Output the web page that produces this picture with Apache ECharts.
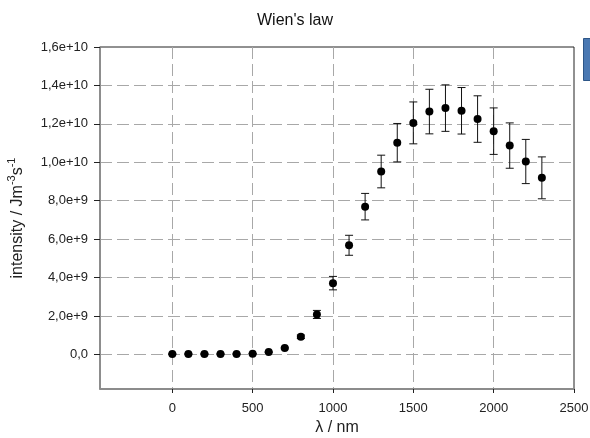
<!DOCTYPE html>
<html>
<head>
<meta charset="utf-8">
<script src="https://cdn.jsdelivr.net/npm/echarts@6/dist/echarts.min.js"></script>
<style>
  html, body { margin: 0; padding: 0; background: #fff; }
  #chart { width: 590px; height: 438px; }
</style>
</head>
<body>
<div id="chart"></div>
<script>
// Wavelength (nm) of each measurement
var wavelengths = [0, 100, 200, 300, 400, 500, 600, 700, 800, 900, 1000, 1100,
                   1200, 1300, 1400, 1500, 1600, 1700, 1800, 1900, 2000, 2100, 2200, 2300];
// Measured intensity (J m^-3 s^-1)
var intensity = [0.02e9, 0.02e9, 0.02e9, 0.02e9, 0.02e9, 0.03e9, 0.12e9, 0.33e9, 0.92e9, 2.08e9, 3.71e9, 5.68e9,
                 7.69e9, 9.52e9, 11.02e9, 12.05e9, 12.64e9, 12.82e9, 12.68e9, 12.25e9, 11.62e9, 10.87e9, 10.04e9, 9.19e9];
// Uncertainty (± half-width of the error bar)
var uncertainty = [0, 0, 0, 0, 0, 0, 0.01e9, 0.04e9, 0.09e9, 0.21e9, 0.35e9, 0.52e9,
                   0.69e9, 0.85e9, 1.0e9, 1.09e9, 1.16e9, 1.21e9, 1.21e9, 1.21e9, 1.21e9, 1.18e9, 1.15e9, 1.09e9];

// Axis ticks
var xTicks = [0, 500, 1000, 1500, 2000, 2500];
var xGridLines = [0, 500, 1000, 1500, 2000];
var yTicks = [0, 2e9, 4e9, 6e9, 8e9, 1e10, 1.2e10, 1.4e10, 1.6e10];
var yGridLines = [0, 2e9, 4e9, 6e9, 8e9, 1e10, 1.2e10, 1.4e10];

var FONT = '"Liberation Sans", Arial, sans-serif';

// 1.6e10 -> "1,6e+10", 0 -> "0,0"
function sciComma(v) {
  if (v === 0) return '0,0';
  var e = Math.floor(Math.log10(Math.abs(v)) + 1e-9);
  var m = v / Math.pow(10, e);
  return m.toFixed(1).replace('.', ',') + 'e+' + e;
}

var points = wavelengths.map(function (w, i) { return [w, intensity[i]]; });
var bars = wavelengths.map(function (w, i) {
  return [w, intensity[i] - uncertainty[i], intensity[i] + uncertainty[i]];
});

var chart = echarts.init(document.getElementById('chart'), null, { renderer: 'canvas' });

chart.setOption({
  animation: false,
  backgroundColor: '#ffffff',
  textStyle: { fontFamily: FONT },
  title: {
    text: "Wien's law",
    left: 'center',
    top: 8,
    textStyle: { fontFamily: FONT, fontSize: 16, fontWeight: 'normal', color: '#111' }
  },
  grid: {
    left: 100, right: 16, top: 47, bottom: 49,
    containLabel: false,
    outerBoundsMode: 'none',
    show: true,
    borderColor: '#222',
    borderWidth: 1,
    backgroundColor: 'transparent'
  },
  xAxis: [{
    type: 'value',
    min: -450, max: 2500,
    axisLine: { show: true, onZero: false, lineStyle: { color: '#8c8c8c', width: 2 } },
    axisTick: { show: true, length: 4, customValues: xTicks, lineStyle: { color: '#222' } },
    axisLabel: {
      customValues: xTicks, color: '#222', fontSize: 13, margin: 13, fontFamily: FONT,
      formatter: function (v) { return String(v); }
    },
    splitLine: { show: false },
    name: 'λ / nm',
    nameLocation: 'middle',
    nameGap: 31,
    nameTextStyle: { color: '#222', fontSize: 16, fontFamily: FONT }
  }, {
    type: 'value',
    min: -450, max: 2500,
    position: 'bottom',
    axisLine: { show: false },
    axisTick: { show: false, customValues: xGridLines },
    axisLabel: { show: false, customValues: xGridLines },
    splitLine: { show: true, lineStyle: { color: '#a8a8a8', type: [12, 5], width: 1 } }
  }],
  yAxis: [{
    type: 'value',
    min: -1.8e9, max: 1.6e10,
    axisLine: { show: true, onZero: false, lineStyle: { color: '#8c8c8c', width: 1.5 } },
    axisTick: { show: true, length: 6, customValues: yTicks, lineStyle: { color: '#222' } },
    axisLabel: {
      customValues: yTicks, color: '#222', fontSize: 13, margin: 12, fontFamily: FONT,
      formatter: sciComma
    },
    splitLine: { show: false }
  }, {
    type: 'value',
    min: -1.8e9, max: 1.6e10,
    position: 'left',
    axisLine: { show: false },
    axisTick: { show: false, customValues: yGridLines },
    axisLabel: { show: false, customValues: yGridLines },
    splitLine: { show: true, lineStyle: { color: '#a8a8a8', type: [12, 5], width: 1 } }
  }],
  graphic: [{
    type: 'text',
    x: 16, y: 218,
    rotation: Math.PI / 2,
    style: {
      text: '{a|intensity / Jm}{s|-3}{a|s}{s|-1}',
      align: 'center',
      verticalAlign: 'middle',
      fill: '#222',
      rich: {
        a: { fontSize: 16, fontFamily: FONT, fill: '#222', lineHeight: 20, verticalAlign: 'bottom' },
        s: { fontSize: 11, fontFamily: FONT, fill: '#222', lineHeight: 13, verticalAlign: 'top' }
      }
    }
  }, {
    type: 'rect',
    shape: { x: 583.5, y: 38.5, width: 8, height: 42 },
    style: { fill: '#4a78b2', stroke: '#2d5687', lineWidth: 1 }
  }],
  series: [{
    type: 'custom',
    name: 'uncertainty',
    xAxisIndex: 0, yAxisIndex: 0,
    data: bars,
    z: 3,
    renderItem: function (params, api) {
      var x = api.value(0);
      var lo = api.coord([x, api.value(1)]);
      var hi = api.coord([x, api.value(2)]);
      var cap = 4;
      var style = { stroke: '#111', lineWidth: 1 };
      return {
        type: 'group',
        children: [
          { type: 'line', shape: { x1: lo[0], y1: lo[1], x2: hi[0], y2: hi[1] }, style: style },
          { type: 'line', shape: { x1: lo[0] - cap, y1: lo[1], x2: lo[0] + cap, y2: lo[1] }, style: style },
          { type: 'line', shape: { x1: hi[0] - cap, y1: hi[1], x2: hi[0] + cap, y2: hi[1] }, style: style }
        ]
      };
    }
  }, {
    type: 'scatter',
    name: 'intensity',
    xAxisIndex: 0, yAxisIndex: 0,
    data: points,
    symbol: 'circle',
    symbolSize: 8,
    itemStyle: { color: '#000', opacity: 1 },
    z: 4
  }]
});
</script>
</body>
</html>
